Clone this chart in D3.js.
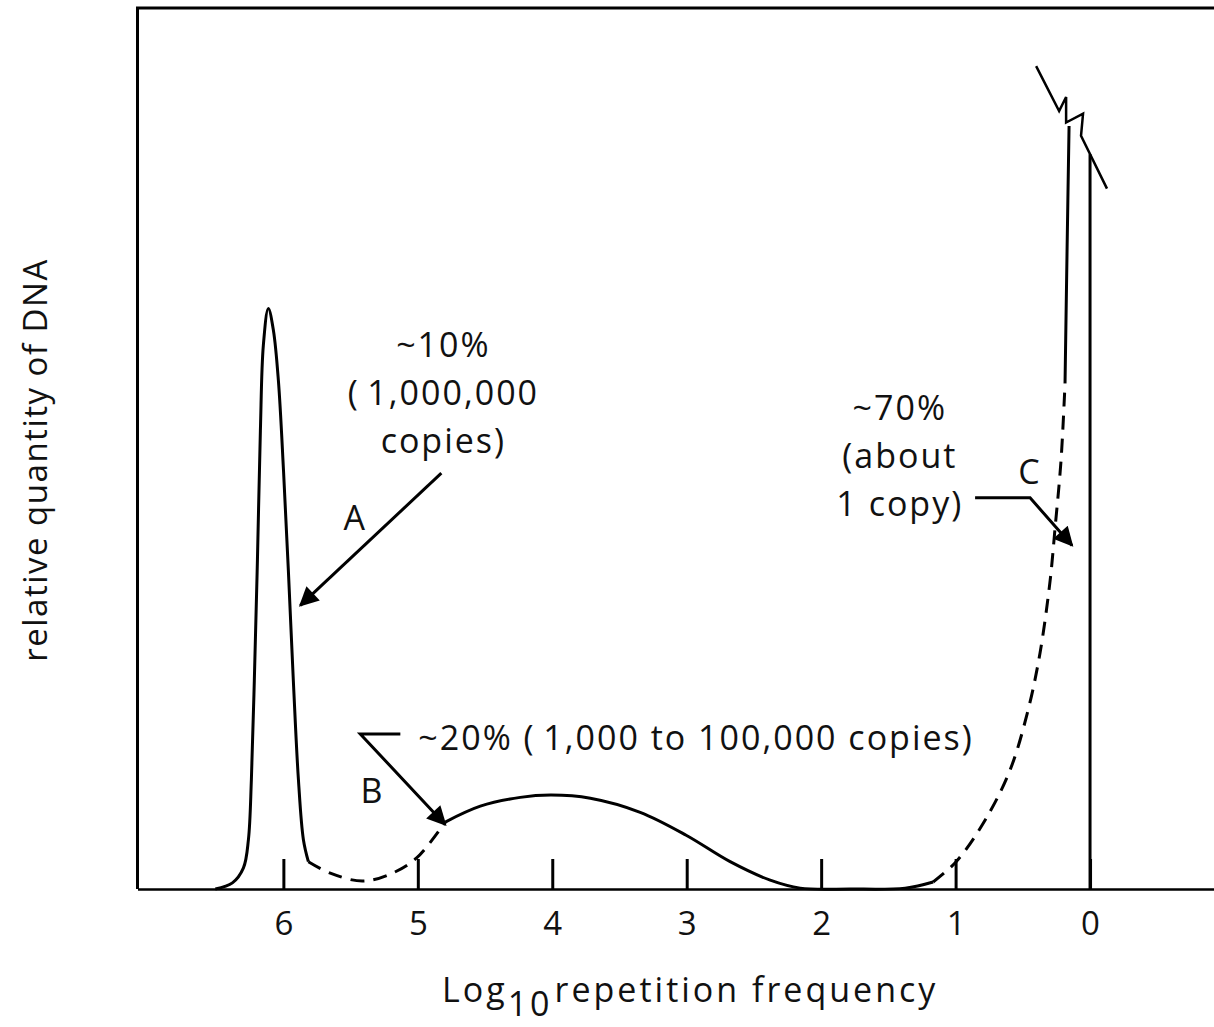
<!DOCTYPE html>
<html>
<head>
<meta charset="utf-8">
<script src="https://cdn.jsdelivr.net/npm/d3@7"></script>
<style>
  body { margin: 0; background: #fff; }
  svg { display: block; }
  text { font-family: "Open Sans", sans-serif; fill: #111; }
</style>
</head>
<body>
<div class="chart"></div>
<script>
// tick values on the log axis (it runs from high to low)
var xTicks = [6, 5, 4, 3, 2, 1, 0];

// curve pieces: [log10 repetition frequency, relative quantity]
var peakA = [[6.506, 0], [6.379, 0.7], [6.297, 2.4], [6.26, 5.6], [6.238, 12.4], [6.216, 23.7],
    [6.193, 37.3], [6.171, 52.0], [6.149, 61.7], [6.112, 65.9], [6.074, 63.4], [6.037, 57.7],
    [5.999, 47.5], [5.963, 36.2], [5.926, 23.7], [5.888, 12.4], [5.851, 5.6], [5.814, 3.1]];
var dipAB = [[5.814, 3.1], [5.651, 1.8], [5.413, 0.9], [5.204, 1.7], [5.011, 3.5], [4.796, 7.6]];
var humpB = [[4.796, 7.6], [4.535, 9.4], [4.238, 10.4], [4.007, 10.66], [3.717, 10.3], [3.346, 8.7],
    [3.004, 6.1], [2.677, 3.1], [2.379, 1.0], [2.156, 0.1], [1.784, 0], [1.375, 0.1], [1.167, 0.8]];
var riseC = [[1.167, 0.8], [0.996, 3.1], [0.781, 7.8], [0.595, 13.5], [0.461, 20.3], [0.372, 26.8],
    [0.297, 35.0], [0.26, 41.0], [0.216, 48.6], [0.186, 57.4]];
var topC = [[0.186, 57.4], [0.171, 72.4], [0.156, 86.6]];
var breakMark = [[0.401, 93.4], [0.23, 88.3], [0.178, 89.9], [0.178, 87.0], [0.052, 88.0], [0.067, 85.5], [-0.126, 79.5]];
var zeroLine = [[0, 83.4], [0, 0]];

var labelA = ["~10%", "(\u20091,000,000", "copies)"];
var labelB = "~20% (\u20091,000 to 100,000 copies)";
var labelC = ["~70%", "(about", "1 copy)"];

var W = 1214, H = 1027;
var margin = { top: 8, right: 0, bottom: 138, left: 137.5 };

var svg = d3.select(".chart")
    .append("svg")
    .attr("width", W)
    .attr("height", H);

var x = d3.scaleLinear()
    .domain([7.085, -0.922])
    .range([margin.left, W - margin.right]);
var y = d3.scaleLinear()
    .domain([0, 100])
    .range([H - margin.bottom, margin.top]);

var defs = svg.append("defs");
defs.append("marker")
    .attr("id", "head")
    .attr("viewBox", "0 0 10 10")
    .attr("refX", 9).attr("refY", 5)
    .attr("markerWidth", 9.5).attr("markerHeight", 6.5)
    .attr("markerUnits", "strokeWidth")
    .attr("orient", "auto")
    .append("path")
    .attr("d", "M0,0L10,5L0,10z")
    .attr("fill", "#000");

// frame: left and top
svg.append("line")
    .attr("x1", margin.left).attr("x2", margin.left)
    .attr("y1", margin.top - 1).attr("y2", y(0))
    .attr("stroke", "#000").attr("stroke-width", 3);
svg.append("line")
    .attr("x1", margin.left - 1.5).attr("x2", W)
    .attr("y1", margin.top).attr("y2", margin.top)
    .attr("stroke", "#000").attr("stroke-width", 3);

// bottom axis, ticks point up into the plot
var gx = svg.append("g")
    .attr("transform", "translate(0," + y(0) + ")")
    .call(d3.axisBottom(x).tickValues(xTicks).tickSizeInner(-30).tickSizeOuter(0).tickPadding(23));
gx.select(".domain").attr("stroke-width", 2.5);
gx.selectAll(".tick line").attr("stroke-width", 3);
gx.selectAll(".tick text")
    .style("font-family", "'Open Sans', sans-serif")
    .style("font-size", "33px")
    .attr("fill", "#111");

var line = d3.line()
    .x(function (d) { return x(d[0]); })
    .y(function (d) { return y(d[1]); })
    .curve(d3.curveCatmullRom.alpha(0.5));

function drawPiece(pts, dashed) {
    svg.append("path")
        .datum(pts)
        .attr("d", line)
        .attr("fill", "none")
        .attr("stroke", "#000")
        .attr("stroke-width", 3)
        .attr("stroke-dasharray", dashed ? "14,9" : null);
}
drawPiece(peakA, false);
drawPiece(dipAB, true);
drawPiece(humpB, false);
drawPiece(riseC, true);
drawPiece(topC, false);

svg.append("path")
    .datum(breakMark)
    .attr("d", d3.line().x(function (d) { return x(d[0]); }).y(function (d) { return y(d[1]); }))
    .attr("fill", "none").attr("stroke", "#000").attr("stroke-width", 2.5);
svg.append("path")
    .datum(zeroLine)
    .attr("d", d3.line().x(function (d) { return x(d[0]); }).y(function (d) { return y(d[1]); }))
    .attr("fill", "none").attr("stroke", "#000").attr("stroke-width", 3);

// annotations
var fs = 34, ls = 2;
function label(txt, xv, yv, anchor) {
    return svg.append("text")
        .attr("x", x(xv)).attr("y", y(yv))
        .attr("text-anchor", anchor || "middle")
        .style("font-size", fs + "px")
        .style("letter-spacing", ls + "px")
        .text(txt);
}
function arrow(pts) {
    svg.append("path")
        .datum(pts)
        .attr("d", d3.line().x(function (d) { return x(d[0]); }).y(function (d) { return y(d[1]); }))
        .attr("fill", "none").attr("stroke", "#000").attr("stroke-width", 3)
        .attr("marker-end", "url(#head)");
}

labelA.forEach(function (t, i) { label(t, 4.81, 60.4 - i * 5.45); });
label("A", 5.465, 40.7);
arrow([[4.825, 47.2], [5.874, 32.2]]);

label(labelB, 4.996, 15.8, "start");
label("B", 5.338, 9.75);
arrow([[5.13, 17.6], [5.428, 17.6], [4.796, 7.3]]);

labelC.forEach(function (t, i) { label(t, 1.415, 53.2 - i * 5.45); });
label("C", 0.446, 46.0);
arrow([[0.855, 44.4], [0.446, 44.4], [0.134, 39.0]]);

// axis titles
var xt = svg.append("text")
    .attr("x", 442).attr("y", 1002)
    .style("font-size", fs + "px")
    .style("letter-spacing", "3px");
xt.append("tspan").text("Log");
xt.append("tspan").attr("dy", 14).text("10");
xt.append("tspan").attr("dy", -14).attr("dx", 2).text("repetition frequency");

svg.append("text")
    .attr("transform", "translate(47,460) rotate(-90)")
    .attr("text-anchor", "middle")
    .style("font-size", "33px")
    .style("letter-spacing", "1.5px")
    .text("relative quantity of DNA");
</script>
</body>
</html>
